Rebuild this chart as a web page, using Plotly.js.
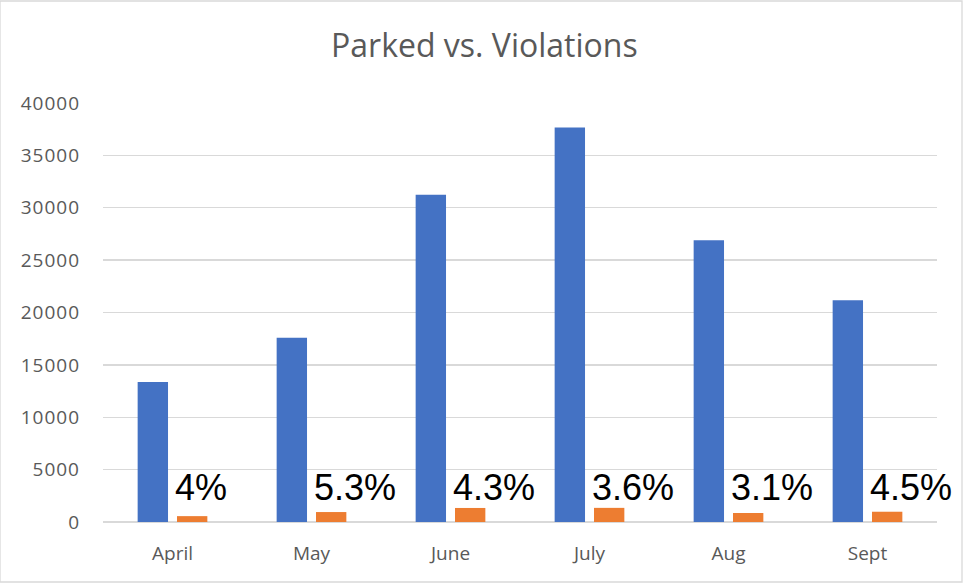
<!DOCTYPE html>
<html>
<head>
<meta charset="utf-8">
<script src="https://cdn.plot.ly/plotly-3.0.1.min.js"></script>
<style>
  html, body { margin: 0; padding: 0; background: #fff; }
  #chart { width: 963px; height: 583px; }
  #chart .ytick text { letter-spacing: 1px; }
</style>
</head>
<body>
<div id="chart"></div>
<script>
const months = ["April", "May", "June", "July", "Aug", "Sept"];
const parked = [13370, 17600, 31250, 37650, 26890, 21170];
const violations = [560, 950, 1340, 1350, 860, 980];
const pctLabels = ["4%", "5.3%", "4.3%", "3.6%", "3.1%", "4.5%"];
const yTicks = [0, 5000, 10000, 15000, 20000, 25000, 30000, 35000, 40000];

const traces = [
  { type: "bar", name: "Parked", x: months, y: parked, marker: { color: "#4472C4" }, hoverinfo: "x+y" },
  { type: "bar", name: "Violations", x: months, y: violations, marker: { color: "#ED7D31" }, hoverinfo: "x+y" }
];

const annotations = months.map((m, i) => ({
  x: m, y: 0, xref: "x", yref: "y",
  text: pctLabels[i], showarrow: false,
  xanchor: "left", yanchor: "bottom",
  xshift: 0, yshift: 12,
  font: { family: "Liberation Sans, Arial, sans-serif", size: 36, color: "#000000" }
}));

const layout = {
  width: 963, height: 583,
  margin: { l: 103, r: 26, t: 103, b: 61, autoexpand: false },
  paper_bgcolor: "#ffffff", plot_bgcolor: "#ffffff",
  showlegend: false,
  barmode: "group", bargap: 0.434, bargroupgap: 0.228,
  title: {
    text: "Parked vs. Violations",
    x: 0.503, xanchor: "center", y: 0.921, yanchor: "middle",
    font: { family: "Open Sans, Liberation Sans, sans-serif", size: 32, color: "#595959" }
  },
  xaxis: {
    type: "category", automargin: false, autorange: false, range: [-0.5, 5.5],
    showgrid: false, zeroline: false, showline: false,
    ticks: "", ticklabelstandoff: 18,
    tickfont: { family: "Open Sans, Liberation Sans, sans-serif", size: 19, color: "#595959" }
  },
  yaxis: {
    range: [0, 40000], autorange: false, tickvals: yTicks, ticktext: yTicks.map(String), automargin: false,
    showgrid: true, gridcolor: "#D9D9D9", gridwidth: 1.3,
    zeroline: true, zerolinecolor: "#D9D9D9", zerolinewidth: 1.3,
    showline: false, ticks: "", ticklabelstandoff: 22,
    tickfont: { family: "Open Sans, Liberation Sans, sans-serif", size: 19, color: "#595959" }
  },
  annotations: annotations,
  shapes: [{
    type: "rect", xref: "paper", yref: "paper",
    x0: -103 / 834, x1: 1 + 25 / 834, y0: -60 / 419, y1: 1 + 102 / 419,
    line: { color: "#D9D9D9", width: 1.3 }, fillcolor: "rgba(0,0,0,0)", layer: "below"
  }]
};

Plotly.newPlot("chart", traces, layout, { displayModeBar: false, staticPlot: true });
</script>
</body>
</html>
